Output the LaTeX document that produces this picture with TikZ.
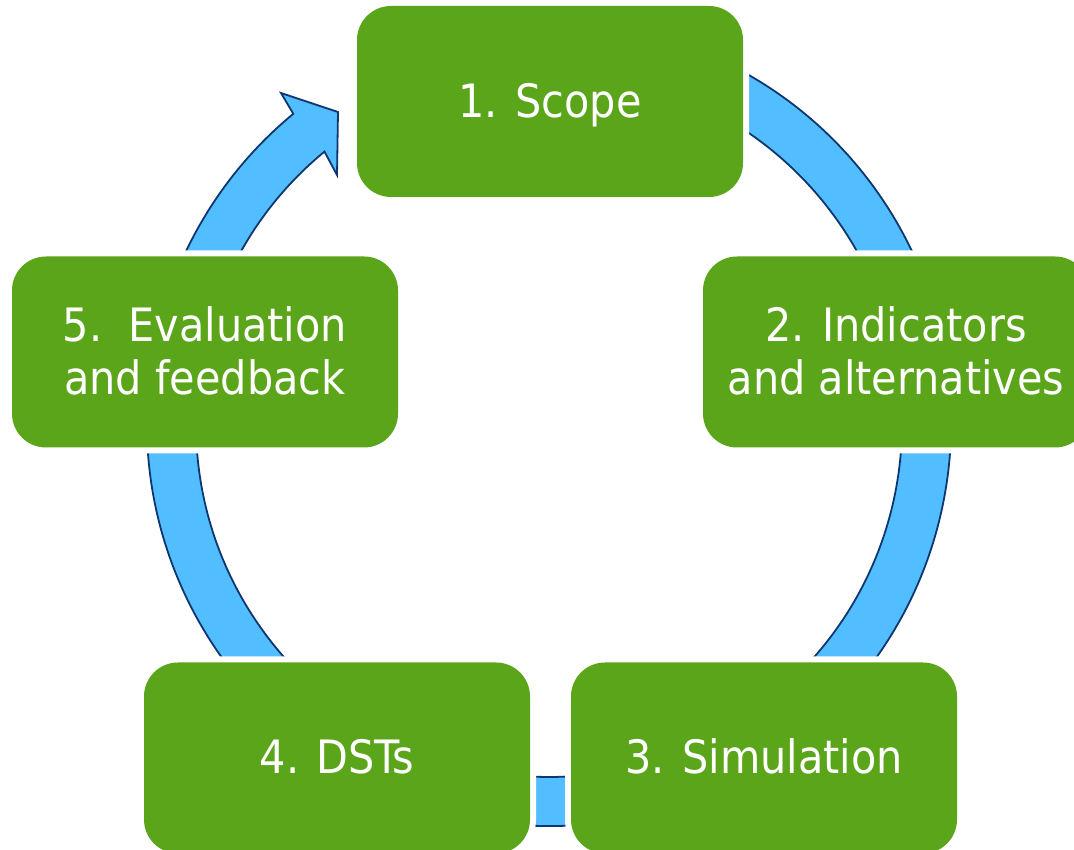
\documentclass[tikz,border=0pt]{standalone}
\usepackage{fontspec}
\setmainfont{DejaVu Sans Condensed}
\usetikzlibrary{calc}
\definecolor{boxgreen}{RGB}{90,165,26}
\definecolor{ringblue}{RGB}{82,190,255}
\definecolor{ringline}{RGB}{14,54,112}
\newcommand\lnstrut{\rule[-10.5pt]{0pt}{53pt}}
\begin{document}
\begin{tikzpicture}[x=1pt,y=1pt,
  stagebox/.style={rounded corners=34pt, fill=boxgreen,
    minimum width=386pt, minimum height=191pt, inner sep=0pt,
    text=white, align=center, font=\fontsize{46}{53}\selectfont,
    preaction={draw=white, line width=12pt}},
  ring/.style={fill=ringblue, draw=ringline, line width=1.8pt, line join=miter}]
\useasboundingbox (0,0) rectangle (1074,850);
\clip (0,0) rectangle (1074,850);
\coordinate (C) at (549,426);
\coordinate (barbout) at (281,757);
\coordinate (tipup) at (338,738);
\coordinate (tipdown) at (337,675);
\draw[ring] ($(C)+(75:402)$) arc[start angle=75, end angle=-230.5, radius=402]
  -- (barbout) -- (tipup) -- (tipdown)
  -- ($(C)+(-230.5:353)$) arc[start angle=-230.5, end angle=75, radius=353] -- cycle;
\node[stagebox] (s1) at (550,748.5) {\lnstrut 1. Scope};
\node[stagebox] (s2) at (896,498) {\lnstrut 2. Indicators\\\lnstrut and alternatives};
\node[stagebox] (s3) at (764,92) {\lnstrut 3. Simulation};
\node[stagebox] (s4) at (337,92) {\lnstrut 4. DSTs};
\node[stagebox] (s5) at (205,498) {\lnstrut 5.\ \ Evaluation\\\lnstrut and feedback};
\end{tikzpicture}
\end{document}
